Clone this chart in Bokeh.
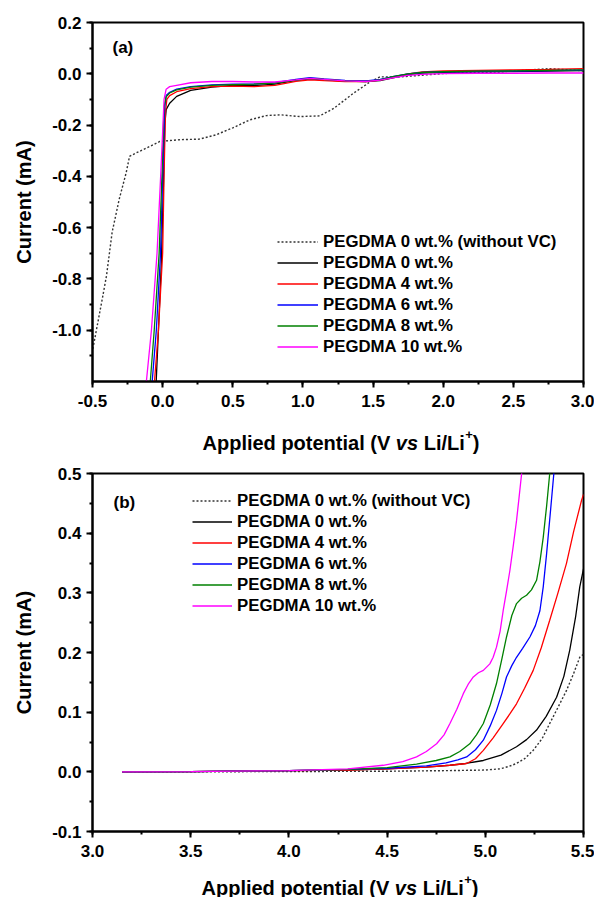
from bokeh.plotting import figure
from bokeh.models import Range1d, SingleIntervalTicker, Label, PrintfTickFormatter
from bokeh.core.properties import value
from bokeh.layouts import column
from bokeh.embed import file_html
from bokeh.resources import INLINE

FONT = "Liberation Sans"

# ---------------- data: panel (a) ----------------
a_names = ["PEGDMA 0 wt.% (without VC)", "PEGDMA 0 wt.%", "PEGDMA 4 wt.%",
           "PEGDMA 6 wt.%", "PEGDMA 8 wt.%", "PEGDMA 10 wt.%"]

a_dot_x = [3.0, 2.75, 2.4, 2.0, 1.7, 1.55, 1.48, 1.36, 1.22, 1.12, 0.98, 0.84, 0.74,
           0.62, 0.5, 0.38, 0.26, 0.12, -0.02, -0.09, -0.19, -0.236, -0.26, -0.31,
           -0.36, -0.40, -0.43, -0.5]
a_dot_y = [0.012, 0.02, 0.007, 0.001, -0.012, -0.012, -0.031, -0.076, -0.135, -0.164,
           -0.167, -0.16, -0.163, -0.18, -0.211, -0.238, -0.255, -0.257, -0.264, -0.283,
           -0.309, -0.322, -0.386, -0.49, -0.618, -0.787, -0.877, -1.08]

a_plateau_x = [3.0, 2.75, 2.5, 2.25, 2.0, 1.85, 1.75, 1.65, 1.55, 1.45, 1.3, 1.15,
               1.05, 0.95, 0.8, 0.65, 0.5, 0.35, 0.2, 0.1]

a_black_x = a_plateau_x + [0.05, 0.025, 0.015, 0.005, -0.01, -0.03, -0.05]
a_black_y = [0.012, 0.01, 0.009, 0.008, 0.006, 0.003, -0.003, -0.015, -0.027, -0.03,
             -0.029, -0.024, -0.02, -0.026, -0.04, -0.046, -0.045, -0.052, -0.065, -0.088,
             -0.115, -0.14, -0.2, -0.45, -0.75, -1.0, -1.25]
a_red_x = a_plateau_x + [0.05, 0.03, 0.02, 0.01, 0.0, -0.03, -0.065]
a_red_y = [0.02, 0.017, 0.015, 0.013, 0.011, 0.007, 0.0, -0.012, -0.025, -0.03,
           -0.03, -0.027, -0.024, -0.03, -0.045, -0.05, -0.048, -0.05, -0.058, -0.07,
           -0.085, -0.1, -0.15, -0.4, -0.7, -1.0, -1.25]
a_blue_x = a_plateau_x + [0.05, 0.025, 0.015, 0.0, -0.015, -0.045, -0.082]
a_blue_y = [0.014, 0.012, 0.01, 0.009, 0.008, 0.005, 0.0, -0.01, -0.022, -0.028,
            -0.026, -0.02, -0.015, -0.022, -0.035, -0.04, -0.04, -0.043, -0.05, -0.06,
            -0.072, -0.085, -0.13, -0.4, -0.7, -1.0, -1.25]
a_green_x = a_plateau_x + [0.05, 0.025, 0.01, -0.005, -0.025, -0.06, -0.095]
a_green_y = [0.015, 0.013, 0.011, 0.01, 0.008, 0.005, 0.0, -0.01, -0.024, -0.03,
             -0.028, -0.022, -0.018, -0.025, -0.036, -0.04, -0.042, -0.045, -0.052, -0.063,
             -0.075, -0.09, -0.13, -0.4, -0.7, -1.0, -1.25]
a_mag_x = a_plateau_x + [0.05, 0.025, 0.01, -0.01, -0.04, -0.08, -0.125]
a_mag_y = [0.003, 0.003, 0.002, 0.002, 0.001, -0.002, -0.006, -0.015, -0.025, -0.03,
           -0.028, -0.022, -0.018, -0.024, -0.032, -0.032, -0.03, -0.03, -0.035, -0.045,
           -0.05, -0.06, -0.1, -0.35, -0.7, -1.0, -1.25]

# ---------------- data: panel (b) ----------------
b_dot_x = [3.15, 3.5, 4.0, 4.5, 4.8, 5.0, 5.074, 5.12, 5.159, 5.2, 5.244, 5.29, 5.328,
           5.37, 5.413, 5.45, 5.481, 5.5]
b_dot_y = [0.0, 0.0, 0.0005, 0.001, 0.002, 0.003, 0.005, 0.009, 0.014, 0.022, 0.036,
           0.056, 0.081, 0.108, 0.136, 0.165, 0.192, 0.197]
b_black_x = [3.15, 3.5, 4.0, 4.3, 4.5, 4.7, 4.82, 4.9, 4.99, 5.08, 5.159, 5.21, 5.261,
             5.31, 5.363, 5.4, 5.43, 5.46, 5.481, 5.5]
b_black_y = [0.0, 0.0005, 0.002, 0.003, 0.005, 0.008, 0.011, 0.014, 0.019, 0.028, 0.042,
             0.054, 0.07, 0.093, 0.125, 0.16, 0.204, 0.26, 0.31, 0.34]
b_red_x = [3.15, 3.5, 4.0, 4.3, 4.5, 4.7, 4.82, 4.905, 4.95, 4.99, 5.04, 5.091, 5.125,
           5.159, 5.2, 5.244, 5.285, 5.328, 5.37, 5.413, 5.45, 5.49, 5.5]
b_red_y = [0.0, 0.0005, 0.002, 0.003, 0.005, 0.008, 0.011, 0.014, 0.022, 0.036, 0.057,
           0.081, 0.097, 0.114, 0.14, 0.17, 0.208, 0.254, 0.3, 0.349, 0.403, 0.455, 0.465]
b_blue_x = [3.15, 3.5, 4.0, 4.3, 4.5, 4.7, 4.8, 4.86, 4.905, 4.95, 4.99, 5.025, 5.057,
            5.085, 5.108, 5.135, 5.159, 5.19, 5.227, 5.255, 5.278, 5.295, 5.312, 5.33,
            5.349, 5.36]
b_blue_y = [0.0, 0.0005, 0.002, 0.004, 0.006, 0.01, 0.015, 0.02, 0.025, 0.037, 0.053,
            0.077, 0.103, 0.132, 0.159, 0.178, 0.192, 0.207, 0.226, 0.245, 0.27, 0.31,
            0.365, 0.43, 0.5, 0.55]
b_green_x = [3.15, 3.5, 4.0, 4.3, 4.5, 4.65, 4.75, 4.82, 4.87, 4.921, 4.955, 4.99, 5.025,
             5.057, 5.085, 5.108, 5.135, 5.159, 5.185, 5.21, 5.235, 5.261, 5.278, 5.295,
             5.312, 5.328, 5.34]
b_green_y = [0.0, 0.0005, 0.002, 0.004, 0.007, 0.013, 0.019, 0.025, 0.034, 0.047, 0.062,
             0.081, 0.112, 0.148, 0.19, 0.226, 0.262, 0.282, 0.291, 0.296, 0.305, 0.321,
             0.352, 0.393, 0.445, 0.5, 0.55]
b_mag_x = [3.15, 3.5, 4.0, 4.3, 4.48, 4.58, 4.65, 4.7, 4.752, 4.79, 4.82, 4.855, 4.888,
           4.915, 4.939, 4.965, 4.99, 5.023, 5.04, 5.057, 5.075, 5.091, 5.108, 5.125,
           5.142, 5.159, 5.172, 5.185, 5.2]
b_mag_y = [0.0, 0.0005, 0.002, 0.005, 0.011, 0.017, 0.025, 0.034, 0.047, 0.062, 0.081,
           0.105, 0.131, 0.148, 0.159, 0.166, 0.17, 0.181, 0.192, 0.209, 0.235, 0.27,
           0.303, 0.337, 0.378, 0.421, 0.46, 0.5, 0.55]

colors = ["#333333", "black", "red", "blue", "green", "magenta"]

# Arial/Liberation bold advance widths (em)
W = {"A": .722, "p": .611, "l": .278, "i": .278, "e": .556, "d": .611, " ": .278,
     "o": .611, "t": .333, "n": .611, "a": .556, "(": .333, "V": .667, "L": .611,
     "/": .278, ")": .333, "v": .556, "s": .556, "+": .584}

FIG_W = 594
BL, BR = 92, 11
FRAME_W = FIG_W - BL - BR


def tw(s, size):
    return sum(W[c] for c in s) * size


def style(p, xr, yr, xint, yint):
    p.x_range = Range1d(*xr)
    p.y_range = Range1d(*yr)
    p.xgrid.visible = False
    p.ygrid.visible = False
    p.outline_line_color = "black"
    p.outline_line_width = 2
    p.outline_line_alpha = 1
    p.xaxis.ticker = SingleIntervalTicker(interval=xint, num_minor_ticks=2)
    p.yaxis.ticker = SingleIntervalTicker(interval=yint, num_minor_ticks=2)
    p.xaxis.formatter = PrintfTickFormatter(format="%.1f")
    p.yaxis.formatter = PrintfTickFormatter(format="%.1f")
    for ax in (p.xaxis[0], p.yaxis[0]):
        ax.axis_line_width = 2
        ax.major_tick_line_width = 2
        ax.minor_tick_line_width = 2
        ax.major_tick_in = 0
        ax.major_tick_out = 6
        ax.minor_tick_in = 0
        ax.minor_tick_out = 3
        ax.major_label_text_font = FONT
        ax.major_label_text_font_style = "bold"
        ax.major_label_text_font_size = "17px"
        ax.major_label_text_color = "black"
    p.xaxis.major_label_standoff = 7
    p.yaxis.major_label_standoff = 5
    p.yaxis.axis_label = "Current (mA)"
    p.yaxis.axis_label_text_font = FONT
    p.yaxis.axis_label_text_font_style = "bold"
    p.yaxis.axis_label_text_font_size = "20px"
    p.yaxis.axis_label_text_color = "black"
    p.yaxis.axis_label_standoff = 14


def label_strip(height, base, x0):
    # strip whose frame is aligned with the panels' frames; x in frame pixels
    s = figure(width=FIG_W, height=height, output_backend="svg", toolbar_location=None,
               x_range=Range1d(0, FRAME_W), y_range=Range1d(height, 0),
               x_axis_type=None, y_axis_type=None, min_border=0,
               min_border_left=BL, min_border_right=BR, min_border_top=0,
               min_border_bottom=0, outline_line_color=None, title_location=None)
    s.grid.visible = False
    size = 20
    t1 = "Applied potential (V"
    x1 = x0 + tw(t1, size) + tw(" ", size)
    x2 = x1 + tw("vs", size) + tw(" ", size)
    x3 = x2 + tw("Li/Li", size)
    x4 = x3 + tw("+", 13) + 0.5
    parts = [(t1, x0, base, "bold", size),
             ("vs", x1, base, "bold italic", size),
             ("Li/Li", x2, base, "bold", size),
             ("+", x3 + 0.5, base - 8, "bold", 13),
             (")", x4, base, "bold", size)]
    for t, x, y, st, sz in parts:
        s.text(x=[x], y=[y], text=[t], text_font=value(FONT), text_font_style=st,
               text_font_size=f"{sz}px", text_color="black", text_align="left",
               text_baseline="alphabetic")
    return s


def legend_style(p, loc, glyph_w):
    lg = p.legend[0]
    lg.location = loc
    lg.padding = 0
    lg.margin = 0
    lg.spacing = 0
    lg.border_line_color = None
    lg.background_fill_alpha = 0
    lg.label_text_font = FONT
    lg.label_text_font_style = "bold"
    lg.label_text_font_size = "16.8px"
    lg.label_text_color = "black"
    lg.label_height = 21
    lg.glyph_height = 21
    lg.glyph_width = glyph_w
    lg.label_standoff = 5


# ---------------- panel (a) ----------------
pa = figure(width=FIG_W, height=417, output_backend="svg", toolbar_location=None,
            min_border_left=BL, min_border_right=BR, min_border_top=22,
            min_border_bottom=36)
style(pa, (-0.5, 3.0), (-1.2, 0.2), 0.5, 0.2)
a_series = [(a_dot_x, a_dot_y), (a_black_x, a_black_y), (a_red_x, a_red_y),
            (a_blue_x, a_blue_y), (a_green_x, a_green_y), (a_mag_x, a_mag_y)]
for i, ((xs, ys), c, nm) in enumerate(zip(a_series, colors, a_names)):
    if i == 0:
        pa.line(xs, ys, line_color=c, line_width=1.4, line_dash="2 2", legend_label=nm)
    else:
        pa.line(xs, ys, line_color=c, line_width=1.3, legend_label=nm)
legend_style(pa, (185, 24), 41)
pa.add_layout(Label(x=112, y=47, x_units="canvas", y_units="canvas", text="(a)",
                    text_font=FONT, text_font_style="bold", text_font_size="17px",
                    text_color="black", text_baseline="middle"))
sa = label_strip(40, 25, 110)

# ---------------- panel (b) ----------------
pb = figure(width=FIG_W, height=410, output_backend="svg", toolbar_location=None,
            min_border_left=BL, min_border_right=BR, min_border_top=16,
            min_border_bottom=36)
style(pb, (3.0, 5.5), (-0.1, 0.5), 0.5, 0.1)
b_series = [(b_dot_x, b_dot_y), (b_black_x, b_black_y), (b_red_x, b_red_y),
            (b_blue_x, b_blue_y), (b_green_x, b_green_y), (b_mag_x, b_mag_y)]
for i, ((xs, ys), c, nm) in enumerate(zip(b_series, colors, a_names)):
    if i == 0:
        pb.line(xs, ys, line_color=c, line_width=1.4, line_dash="2 2", legend_label=nm)
    else:
        pb.line(xs, ys, line_color=c, line_width=1.3, legend_label=nm)
legend_style(pb, (100, 215), 40)
pb.add_layout(Label(x=113, y=45, x_units="canvas", y_units="canvas", text="(b)",
                    text_font=FONT, text_font_style="bold", text_font_size="17px",
                    text_color="black", text_baseline="middle"))
sb = label_strip(30, 20, 109)

layout = column(pa, sa, pb, sb, spacing=0)
open("out.html", "w").write(file_html(layout, INLINE))
